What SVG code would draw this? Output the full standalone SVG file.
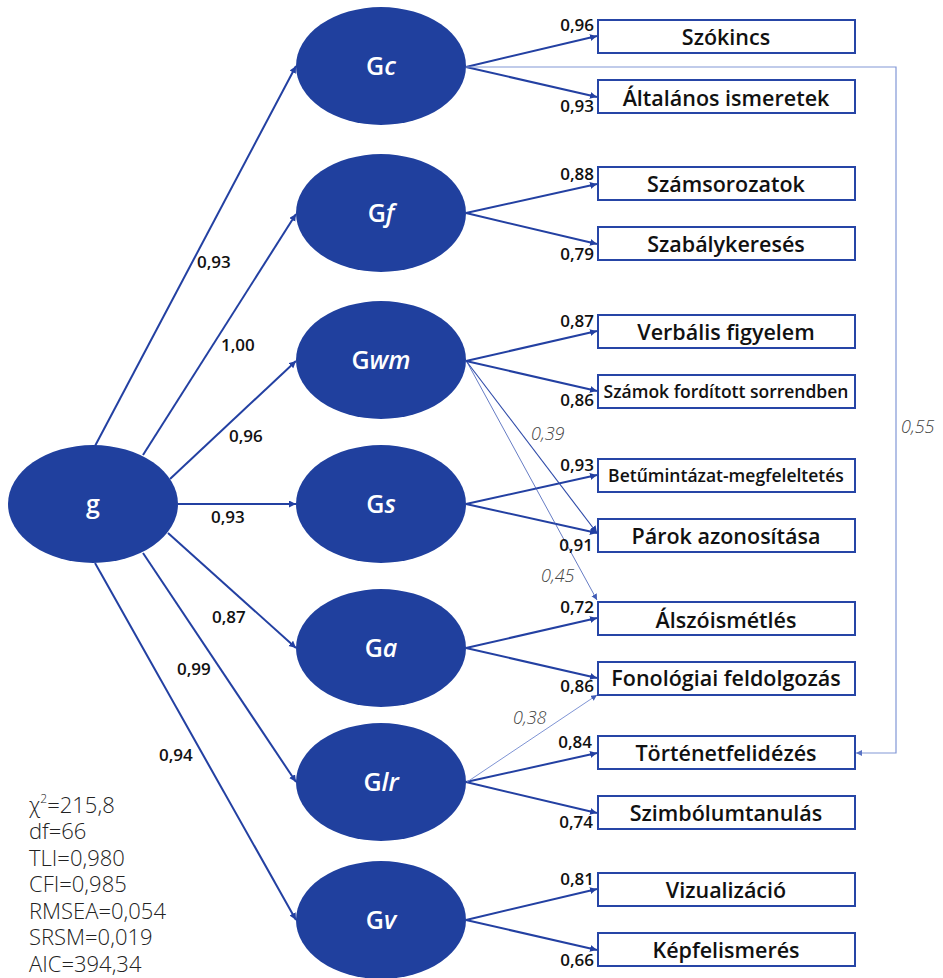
<svg xmlns="http://www.w3.org/2000/svg" width="943" height="978" viewBox="0 0 943 978">
<defs>
<style>
.lat{fill:#20409e;}
.lt{fill:#fff;font-family:"Open Sans",sans-serif;font-weight:600;font-size:25px;text-anchor:middle;}
.it{font-style:italic;}
.box{fill:#fff;stroke:#2645a6;stroke-width:2;}
.bt{fill:#111;font-family:"Open Sans",sans-serif;font-weight:600;font-size:21.5px;text-anchor:middle;}
.bts{font-size:17.5px;}
.c{stroke:#2340a2;stroke-width:2;fill:none;marker-end:url(#ah);}
.c1{stroke:#2e4aa8;stroke-width:1.1;fill:none;marker-end:url(#ah);}
.c2{stroke:#3f5bb5;stroke-width:0.8;fill:none;marker-end:url(#ah2);}
.c3{stroke:#7188cf;stroke-width:0.9;fill:none;marker-end:url(#ah2);}
.c4{stroke:#8197d6;stroke-width:1.2;fill:none;marker-end:url(#ah3);}
.n{fill:#111;font-family:"Open Sans",sans-serif;font-weight:600;font-size:17px;}
.ne{text-anchor:end;}
.ni{fill:#444;font-family:"Open Sans",sans-serif;font-weight:300;font-style:italic;font-size:18px;}
.st{fill:#222;font-family:"Open Sans",sans-serif;font-weight:300;font-size:22px;}
</style>
<marker id="ah" markerUnits="userSpaceOnUse" markerWidth="8" markerHeight="8" refX="7" refY="3.5" orient="auto"><path d="M0,0 L7,3.5 L0,7 z" fill="#2340a2"/></marker>
<marker id="ah2" markerUnits="userSpaceOnUse" markerWidth="8" markerHeight="8" refX="6" refY="3" orient="auto"><path d="M0,0 L6,3 L0,6 z" fill="#3f5bb5"/></marker>
<marker id="ah3" markerUnits="userSpaceOnUse" markerWidth="8" markerHeight="8" refX="6" refY="3" orient="auto"><path d="M0,0 L6,3 L0,6 z" fill="#5a73c4"/></marker>
</defs>
<rect width="943" height="978" fill="#fff"/>

<g id="connectors">
<path class="c" d="M95,446 L296,66"/>
<path class="c" d="M143,455 L296,214"/>
<path class="c" d="M170,479 L296,361"/>
<path class="c" d="M178,504 L296,504"/>
<path class="c" d="M168,533 L296,648"/>
<path class="c" d="M143,553 L296,782"/>
<path class="c" d="M95,563 L296,920"/>
<path class="c" d="M466,67 L597,36"/>
<path class="c" d="M466,67 L597,97"/>
<path class="c" d="M466,213 L597,184"/>
<path class="c" d="M466,213 L597,244"/>
<path class="c" d="M466,361 L597,331"/>
<path class="c" d="M466,361 L597,391"/>
<path class="c" d="M466,504 L597,475"/>
<path class="c" d="M466,504 L597,533"/>
<path class="c" d="M466,648 L597,618"/>
<path class="c" d="M466,648 L597,678"/>
<path class="c" d="M466,782 L597,753"/>
<path class="c" d="M466,782 L597,813"/>
<path class="c" d="M466,920 L597,889"/>
<path class="c" d="M466,920 L597,950"/>
<path class="c1" d="M467,362 L597,533"/>
<path class="c2" d="M467,362 L597,600"/>
<path class="c3" d="M467,782 L597,695"/>
<path class="c4" d="M466,67 L896,67 L896,753 L856,753"/>
</g>

<g id="labels">
<text class="n" x="197" y="268">0,93</text>
<text class="n" x="221" y="351">1,00</text>
<text class="n" x="229" y="442">0,96</text>
<text class="n" x="211" y="523">0,93</text>
<text class="n" x="212" y="623">0,87</text>
<text class="n" x="177" y="675">0,99</text>
<text class="n" x="159" y="761">0,94</text>

<text class="n ne" x="594" y="31">0,96</text>
<text class="n ne" x="594" y="112">0,93</text>
<text class="n ne" x="594" y="180">0,88</text>
<text class="n ne" x="594" y="260">0,79</text>
<text class="n ne" x="594" y="327">0,87</text>
<text class="n ne" x="594" y="406">0,86</text>
<text class="n ne" x="594" y="471">0,93</text>
<text class="n ne" x="593" y="551">0,91</text>
<text class="n ne" x="594" y="613">0,72</text>
<text class="n ne" x="594" y="692">0,86</text>
<text class="n ne" x="592" y="748">0,84</text>
<text class="n ne" x="593" y="828">0,74</text>
<text class="n ne" x="594" y="885">0,81</text>
<text class="n ne" x="594" y="966">0,66</text>

<text class="ni" x="531" y="440">0,39</text>
<text class="ni" x="541" y="582">0,45</text>
<text class="ni" x="513" y="724">0,38</text>
<text class="ni" x="901" y="433">0,55</text>
</g>

<g id="g"><ellipse class="lat" cx="93" cy="504" rx="85" ry="59"/><text class="lt" x="93" y="513">g</text></g>
<g id="Gc"><ellipse class="lat" cx="381" cy="66" rx="85" ry="59"/><text class="lt" x="381" y="75">G<tspan class="it">c</tspan></text></g>
<g id="Gf"><ellipse class="lat" cx="381" cy="213" rx="85" ry="59"/><text class="lt" x="381" y="222">G<tspan class="it">f</tspan></text></g>
<g id="Gwm"><ellipse class="lat" cx="381" cy="360" rx="85" ry="59"/><text class="lt" x="381" y="369">G<tspan class="it">wm</tspan></text></g>
<g id="Gs"><ellipse class="lat" cx="381" cy="504" rx="85" ry="59"/><text class="lt" x="381" y="513">G<tspan class="it">s</tspan></text></g>
<g id="Ga"><ellipse class="lat" cx="381" cy="648" rx="85" ry="59"/><text class="lt" x="381" y="657">G<tspan class="it">a</tspan></text></g>
<g id="Glr"><ellipse class="lat" cx="381" cy="782" rx="85" ry="59"/><text class="lt" x="381" y="791">G<tspan class="it">lr</tspan></text></g>
<g id="Gv"><ellipse class="lat" cx="381" cy="920" rx="85" ry="59"/><text class="lt" x="381" y="929">G<tspan class="it">v</tspan></text></g>

<g id="szokincs"><rect class="box" x="598" y="20" width="257" height="33"/><text class="bt" x="726" y="45">Szókincs</text></g>
<g id="altalanos"><rect class="box" x="598" y="80" width="257" height="33"/><text class="bt" x="726" y="106">Általános ismeretek</text></g>
<g id="szamsorozatok"><rect class="box" x="598" y="167" width="257" height="33"/><text class="bt" x="726" y="192">Számsorozatok</text></g>
<g id="szabalykereses"><rect class="box" x="598" y="227" width="257" height="33"/><text class="bt" x="726" y="252">Szabálykeresés</text></g>
<g id="verbalis"><rect class="box" x="598" y="315" width="257" height="33"/><text class="bt" x="726" y="340">Verbális figyelem</text></g>
<g id="szamok"><rect class="box" x="598" y="375" width="257" height="33"/><text class="bt bts" x="726" y="398">Számok fordított sorrendben</text></g>
<g id="betumintazat"><rect class="box" x="598" y="459" width="257" height="33"/><text class="bt bts" x="726" y="482">Betűmintázat-megfeleltetés</text></g>
<g id="parok"><rect class="box" x="598" y="519" width="257" height="33"/><text class="bt" x="726" y="544">Párok azonosítása</text></g>
<g id="alszo"><rect class="box" x="598" y="602" width="257" height="33"/><text class="bt" x="726" y="628">Álszóismétlés</text></g>
<g id="fonologiai"><rect class="box" x="598" y="662" width="257" height="33"/><text class="bt" x="726" y="686">Fonológiai feldolgozás</text></g>
<g id="tortenet"><rect class="box" x="598" y="736" width="257" height="33"/><text class="bt" x="726" y="761">Történetfelidézés</text></g>
<g id="szimbolum"><rect class="box" x="598" y="796" width="257" height="33"/><text class="bt" x="726" y="821">Szimbólumtanulás</text></g>
<g id="vizualizacio"><rect class="box" x="598" y="873" width="257" height="33"/><text class="bt" x="726" y="898">Vizualizáció</text></g>
<g id="kepfelismeres"><rect class="box" x="598" y="933" width="257" height="33"/><text class="bt" x="726" y="958">Képfelismerés</text></g>

<g id="fit">
<text class="st" x="29" y="813">χ<tspan font-size="12" dy="-10">2</tspan><tspan dy="10">=215,8</tspan></text>
<text class="st" x="29" y="839">df=66</text>
<text class="st" x="29" y="866">TLI=0,980</text>
<text class="st" x="29" y="892">CFI=0,985</text>
<text class="st" x="29" y="919">RMSEA=0,054</text>
<text class="st" x="29" y="945">SRSM=0,019</text>
<text class="st" x="29" y="972">AIC=394,34</text>
</g>
</svg>
